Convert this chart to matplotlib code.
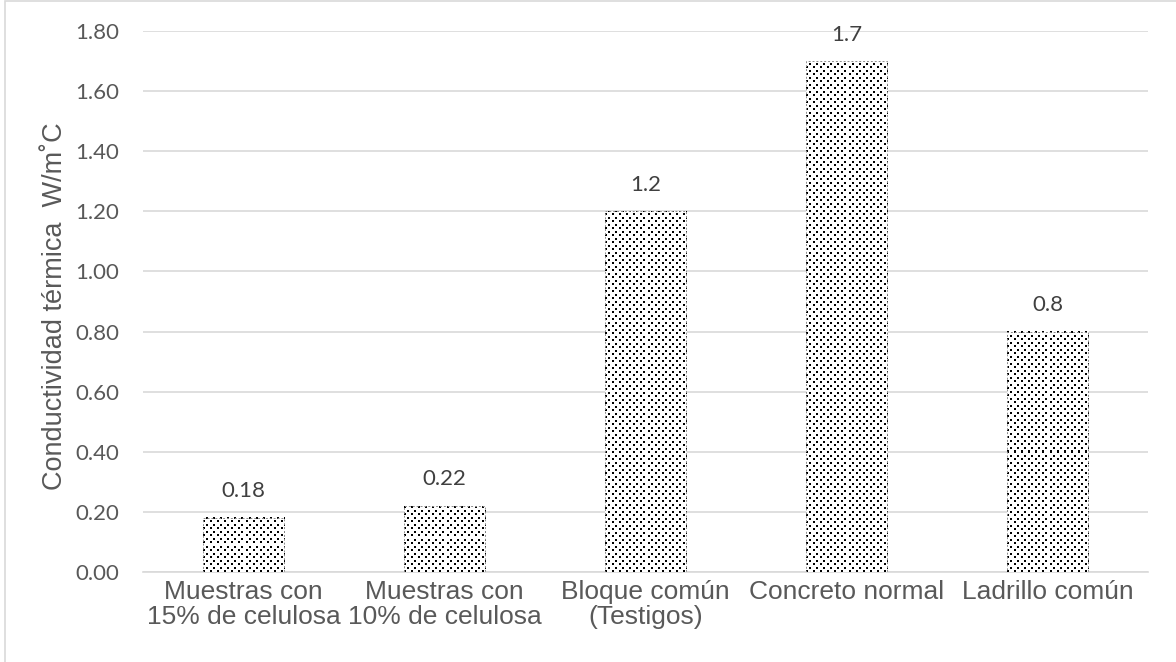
import matplotlib.pyplot as plt
from matplotlib.patches import Rectangle
import numpy as np

# Conductividad térmica por material
categorias = ["Muestras con\n15% de celulosa", "Muestras con\n10% de celulosa",
              "Bloque común\n(Testigos)", "Concreto normal", "Ladrillo común"]
valores = [0.18, 0.22, 1.2, 1.7, 0.8]
etiquetas = ["0.18", "0.22", "1.2", "1.7", "0.8"]
yticks = [0.0, 0.2, 0.4, 0.6, 0.8, 1.0, 1.2, 1.4, 1.6, 1.8]


def trama_puntos(h, w, paso=7, punto=2):
    """Textura de puntos negros al tresbolillo, en píxeles."""
    r = np.arange(h)[:, None]
    c = np.arange(w)[None, :]
    a = ((r % paso) < punto) & ((c % paso) < punto)
    m = paso // 2
    b = (((r - m) % paso) < punto) & (((c - m) % paso) < punto)
    img = np.ones((h, w, 3))
    img[a | b] = 0.0
    return img


fig = plt.figure(figsize=(11.76, 6.62), dpi=100)
ax = fig.add_axes([0.1216, 0.136, 0.8546, 0.817])

# marco del gráfico
fig.patches.append(Rectangle((5 / 1176, -0.01), 1.02, 1.0 - 1 / 662 + 0.01,
                             transform=fig.transFigure, fill=False,
                             edgecolor='#d9d9d9', linewidth=1.2))

ax.set_xlim(-0.5, len(categorias) - 0.5)
ax.set_ylim(0, 1.8)

x = np.arange(len(categorias))
bars = ax.bar(x, valores, width=0.405, color='white', edgecolor='none', zorder=2)

# relleno punteado de cada barra
for b in bars:
    x0, y0 = b.get_x(), b.get_y()
    x1, y1 = x0 + b.get_width(), y0 + b.get_height()
    (px0, py0), (px1, py1) = ax.transData.transform([[x0, y0], [x1, y1]])
    w_px = max(int(round(px1 - px0)), 1)
    h_px = max(int(round(py1 - py0)), 1)
    ax.imshow(trama_puntos(h_px, w_px), extent=(x0, x1, y0, y1),
              interpolation='nearest', aspect='auto', origin='lower', zorder=3)

ax.bar(x, valores, width=0.405, fill=False, edgecolor='#8c8c8c',
       linewidth=0.7, linestyle=(0, (2, 2)), zorder=4)

for xi, v, t in zip(x, valores, etiquetas):
    ax.text(xi, v + 0.055, t, ha='center', va='bottom', fontsize=16,
            family='Lato', color='#404040')

ax.set_xlim(-0.5, len(categorias) - 0.5)
ax.set_ylim(0, 1.8)
ax.set_yticks(yticks)
ax.set_yticklabels([f"{t:.2f}" for t in yticks], family='Lato', fontsize=16,
                   color='#595959')
ax.set_xticks(x)
ax.set_xticklabels(categorias, family='Liberation Sans', fontsize=19,
                   color='#595959', linespacing=1.05)
ax.tick_params(axis='y', length=0, pad=17)
ax.tick_params(axis='x', length=0, pad=6)

ax.grid(axis='y', color='#d9d9d9', linewidth=1.2, zorder=0)
ax.set_axisbelow(True)
for s in ['top', 'right', 'left']:
    ax.spines[s].set_visible(False)
ax.spines['bottom'].set_color('#d9d9d9')
ax.spines['bottom'].set_linewidth(1.2)

fig.text(55 / 1176, 1 - 306 / 662, "Conductividad térmica  W/m˚C",
         family='Liberation Sans', fontsize=19.5, color='#595959',
         rotation=90, ha='center', va='center')

fig.savefig('out.png', dpi=100)
